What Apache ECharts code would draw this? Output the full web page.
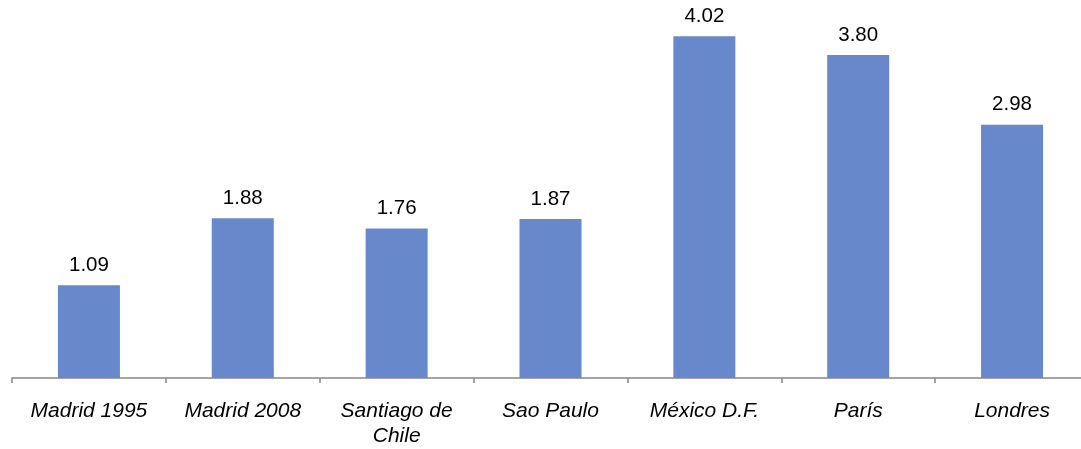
<!DOCTYPE html>
<html>
<head>
<meta charset="utf-8">
<script src="https://cdn.jsdelivr.net/npm/echarts@6/dist/echarts.min.js"></script>
<style>
  html, body { margin: 0; padding: 0; background: #ffffff; overflow: hidden; }
  /* the plot runs slightly past the right edge of the window */
  #chart { width: 1089px; height: 449px; }
</style>
</head>
<body>
<div id="chart"></div>
<script>
// Cities compared and their values
const categories = ['Madrid 1995', 'Madrid 2008', 'Santiago de\nChile', 'Sao Paulo', 'México D.F.', 'París', 'Londres'];
const values = [1.09, 1.88, 1.76, 1.87, 4.02, 3.80, 2.98];

const chart = echarts.init(document.getElementById('chart'), null, { renderer: 'canvas' });

chart.setOption({
  animation: false,
  backgroundColor: '#ffffff',
  grid: { left: 12, top: 4, right: 0, bottom: 67, containLabel: false },
  xAxis: {
    type: 'category',
    data: categories,
    axisLine: { show: true, lineStyle: { color: '#868686', width: 1.5 } },
    axisTick: { show: true, alignWithLabel: false, length: 5, lineStyle: { color: '#868686', width: 1.5 } },
    axisLabel: {
      interval: 0,
      margin: 21,
      color: '#000000',
      fontFamily: 'Liberation Sans, Arial, sans-serif',
      fontStyle: 'italic',
      fontSize: 21,
      lineHeight: 25
    },
    splitLine: { show: false }
  },
  yAxis: {
    type: 'value',
    min: 0,
    max: 4.4,
    show: false,
    splitLine: { show: false }
  },
  series: [{
    type: 'bar',
    data: values,
    barWidth: 62,
    itemStyle: { color: '#6789CB' },
    label: {
      show: true,
      position: 'top',
      distance: 9.5,
      color: '#000000',
      fontFamily: 'Liberation Sans, Arial, sans-serif',
      fontSize: 20.5,
      formatter: p => p.value.toFixed(2)
    }
  }]
});
</script>
</body>
</html>
